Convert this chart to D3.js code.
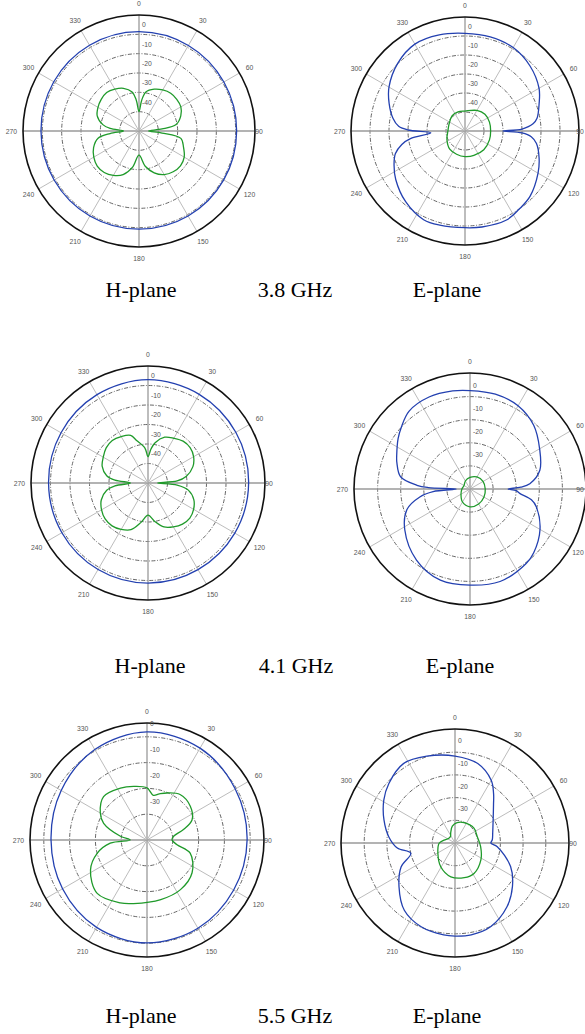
<!DOCTYPE html>
<html><head><meta charset="utf-8">
<script src="https://cdn.jsdelivr.net/npm/d3@7"></script>
<style>body{margin:0;background:#fff}svg{display:block}</style>
</head><body>
<svg id="c" width="585" height="1034"></svg>
<script>
// ---------- data ----------
const angleTicks = [0,30,60,90,120,150,180,210,240,270,300,330];
const frequencies = ["3.8 GHz","4.1 GHz","5.5 GHz"];
const planeNames = ["H-plane","E-plane"];
const dbTicksA = [0,-10,-20,-30,-40];
const dbTicksB = [0,-10,-20,-30];

// [angle deg, dB]
const h38Blue = [[0,-8.6],[30,-8.9],[60,-9.3],[90,-9.5],[120,-9.4],[150,-9.2],[180,-9.2],[210,-9.2],[240,-9.3],[270,-9.3],[300,-9.1],[330,-8.8]];
const h38Green = [[0,-50],[5,-44],[10,-39.5],[20,-37],[30,-35.5],[40,-34.5],[50,-34.5],[60,-35],[70,-37],[80,-40.5],[85,-48],[90,-55],[95,-48],[100,-38],[110,-35.5],[120,-33],[130,-32],[140,-32.5],[150,-34],[160,-37],[170,-41.5],[180,-47.5],[190,-41],[200,-36],[210,-33.5],[220,-32],[230,-31.8],[240,-33],[250,-35],[260,-38.5],[265,-45],[270,-52],[275,-45],[280,-41],[290,-37],[300,-35.5],[310,-34.5],[320,-34],[330,-35],[340,-36.5],[350,-39.5],[355,-44]];
const e38Blue = [[0,-8.6],[15,-8.7],[30,-9.3],[45,-11.6],[60,-15],[70,-18.5],[80,-21.5],[84,-24],[88,-30],[90,-40],[92,-30],[95,-25],[100,-21.8],[110,-18.5],[120,-15.6],[135,-11.5],[145,-10],[155,-8.3],[170,-8.7],[180,-9.1],[195,-8.7],[205,-8.5],[220,-11.4],[235,-15.5],[245,-18.8],[252,-21.5],[258,-26],[262,-31],[267,-42],[271,-30],[274,-25],[280,-21.5],[290,-17.5],[300,-13.8],[315,-9.8],[330,-7.2],[345,-7.6]];
const e38Green = [[0,-49.5],[30,-47.5],[50,-46.3],[70,-46.3],[90,-46.5],[110,-46.3],[135,-46],[160,-46.3],[180,-46.5],[200,-47],[220,-47.5],[245,-49.5],[270,-51],[295,-50.8],[320,-49.5],[340,-49.3]];
const h41Blue = [[0,-7],[30,-7.5],[60,-8],[90,-8.4],[120,-8.6],[150,-8.7],[180,-8.7],[210,-8.8],[240,-9],[270,-9],[300,-8.5],[330,-7.7]];
const h41Green = [[0,-46.5],[5,-42.5],[10,-39],[20,-35],[30,-33.5],[40,-32],[50,-31.8],[60,-33],[70,-35.5],[80,-40],[86,-45],[90,-55],[94,-45],[100,-39],[110,-35],[120,-33],[130,-32],[140,-32.5],[150,-34],[160,-36],[170,-40],[180,-43.5],[190,-39.5],[200,-34.5],[210,-32.5],[220,-31.3],[230,-31.3],[240,-32.5],[250,-34.5],[260,-38.5],[265,-43],[270,-51],[275,-43],[280,-38.5],[290,-35],[300,-33.5],[310,-32],[320,-31.5],[330,-32.5],[340,-34],[345,-37.4],[355,-42]];
const e41Blue = [[0,-7.4],[15,-7.5],[30,-8.4],[45,-11],[60,-15.2],[75,-18.7],[85,-24],[88,-28],[90,-33.5],[92,-30],[95,-28.4],[100,-23],[105,-20.3],[120,-15],[135,-11],[143,-9.6],[162,-7.9],[180,-8.4],[198,-8.5],[217,-11.5],[238,-16.7],[252,-21.3],[261,-28],[266,-34],[270,-44],[272,-32],[274,-27],[280,-19.5],[290,-16.3],[295,-15],[305,-12],[312,-10],[322,-7.2],[336,-6.4],[350,-6.9]];
const e41Green = [[0,-45],[30,-44],[60,-43.5],[90,-43.4],[120,-43],[150,-42.5],[180,-42.3],[210,-43.5],[240,-45.5],[270,-46.5],[300,-47],[330,-46]];
const h55Blue = [[0,-8.1],[30,-8.9],[60,-10.5],[90,-11.2],[120,-11.2],[150,-10.5],[180,-10.1],[210,-10.9],[240,-12.2],[270,-12.8],[300,-11.6],[330,-9.5]];
const h55Green = [[0,-29.8],[8,-32.5],[15,-31.5],[23,-30.2],[36,-28.2],[52,-28.7],[66,-30.9],[74,-35.3],[82,-39.6],[90,-40.3],[99,-38.2],[107,-32.5],[126,-28.4],[146,-26.8],[167,-26.3],[192,-24.8],[203,-23.5],[223,-21.7],[242,-25.2],[255,-30],[265,-35.7],[270,-43.5],[278,-39.6],[291,-32],[300,-29.1],[315,-26.2],[333,-27.4],[346,-28.6]];
const e55Blue = [[0,-11.7],[16,-13.6],[30,-18.1],[38,-22.4],[45,-26],[59,-30.4],[75,-32.8],[85,-33.5],[90,-34.2],[95,-31.3],[113,-23.4],[127,-18.3],[141,-13.7],[157,-9.9],[170,-8.9],[180,-9],[187,-9.2],[202,-10.2],[217,-12.9],[232,-18.7],[246,-24],[257,-30],[265,-24.5],[275,-20.8],[288,-17.1],[301,-13.4],[312,-10.8],[327,-8.3],[342,-9.8]];
const e55Green = [[6,-41],[24,-40.2],[52,-39.4],[74,-39.8],[98,-38.6],[123,-36.4],[148,-34.2],[165,-34.2],[187,-35],[211,-37.8],[239,-41.2],[269,-43],[285,-45],[305,-46.5],[325,-46.5],[338,-45],[351,-42.5]];

// ---------- layout ----------
const W = 585;
const panels = [
  {cx:139, cy:131, R:116, min:-60, r0:116, ticks:dbTicksA, blue:h38Blue, green:h38Green},
  {cx:465, cy:131, R:114, min:-60, r0:114, ticks:dbTicksA, blue:e38Blue, green:e38Green},
  {cx:148, cy:483, R:117, min:-60, r0:117, ticks:dbTicksA, blue:h41Blue, green:h41Green},
  {cx:470, cy:489, R:116, min:-50, r0:115.5, ticks:dbTicksB, blue:e41Blue, green:e41Green},
  {cx:147, cy:840, R:117, min:-50, r0:129, ticks:dbTicksB, blue:h55Blue, green:h55Green},
  {cx:455, cy:843, R:114, min:-50, r0:113.5, ticks:dbTicksB, blue:e55Blue, green:e55Green}
];
const captionRows = [297, 673, 1023];
const captionX = [[141,295,447],[150,296,460],[141,295,447]];

const svg = d3.select("#c");
const rad = a => a*Math.PI/180;
const labelFont = "Liberation Sans, Arial, sans-serif";

panels.forEach(p => {
  const g = svg.append("g").attr("transform", `translate(${p.cx},${p.cy})`);
  const r = d3.scaleLinear().domain([p.min, 0]).range([0, p.r0]);
  const step = r(0) - r(-10);
  // rings
  d3.range(-10, p.min, -10).forEach(v => {
    if (r(v) < p.R - 1) g.append("circle").attr("r", r(v)).attr("fill","none")
      .attr("stroke","#555").attr("stroke-width",0.9).attr("stroke-dasharray","4,1.6,1,1.6");
  });
  // spokes
  angleTicks.forEach(a => {
    const main = a % 90 === 0;
    g.append("line").attr("x1",0).attr("y1",0)
      .attr("x2", p.R*Math.sin(rad(a))).attr("y2", -p.R*Math.cos(rad(a)))
      .attr("stroke", main ? "#9a9a9a" : "#b4b4b4").attr("stroke-width", main ? 1.3 : 0.9);
  });
  // outer circle
  g.append("circle").attr("r", p.R).attr("fill","none").attr("stroke","#111").attr("stroke-width",1.6);
  // angle labels
  angleTicks.forEach(a => {
    const lr = a === 90 ? p.R + 4 : p.R*1.1;
    let x = lr*Math.sin(rad(a));
    const halfW = String(a).length * 2;
    x = Math.min(x, W - 1 - halfW - p.cx);
    g.append("text").attr("x", x).attr("y", -lr*Math.cos(rad(a)))
      .attr("text-anchor","middle").attr("dominant-baseline","central")
      .attr("font-family",labelFont).attr("font-size",6.8).attr("fill","#555")
      .text(a);
  });
  // radial labels
  p.ticks.forEach(v => {
    g.append("text").attr("x", 3).attr("y", -(r(v) - step/2))
      .attr("dominant-baseline","central")
      .attr("font-family",labelFont).attr("font-size",6.8).attr("fill","#555")
      .text(v);
  });
  const line = d3.lineRadial().angle(d => rad(d[0])).radius(d => r(d[1]))
    .curve(d3.curveCatmullRomClosed.alpha(0.5));
  g.append("path").attr("d", line(p.green)).attr("fill","none").attr("stroke","#1f9a2a").attr("stroke-width",1.3);
  g.append("path").attr("d", line(p.blue)).attr("fill","none").attr("stroke","#2340b0").attr("stroke-width",1.3);
});

captionRows.forEach((y, i) => {
  const labels = [planeNames[0], frequencies[i], planeNames[1]];
  labels.forEach((t, j) => {
    svg.append("text").attr("x", captionX[i][j]).attr("y", y).attr("text-anchor","middle")
      .attr("font-family","Liberation Serif, Times New Roman, serif").attr("font-size",22).attr("fill","#000").text(t);
  });
});
</script>
</body></html>
